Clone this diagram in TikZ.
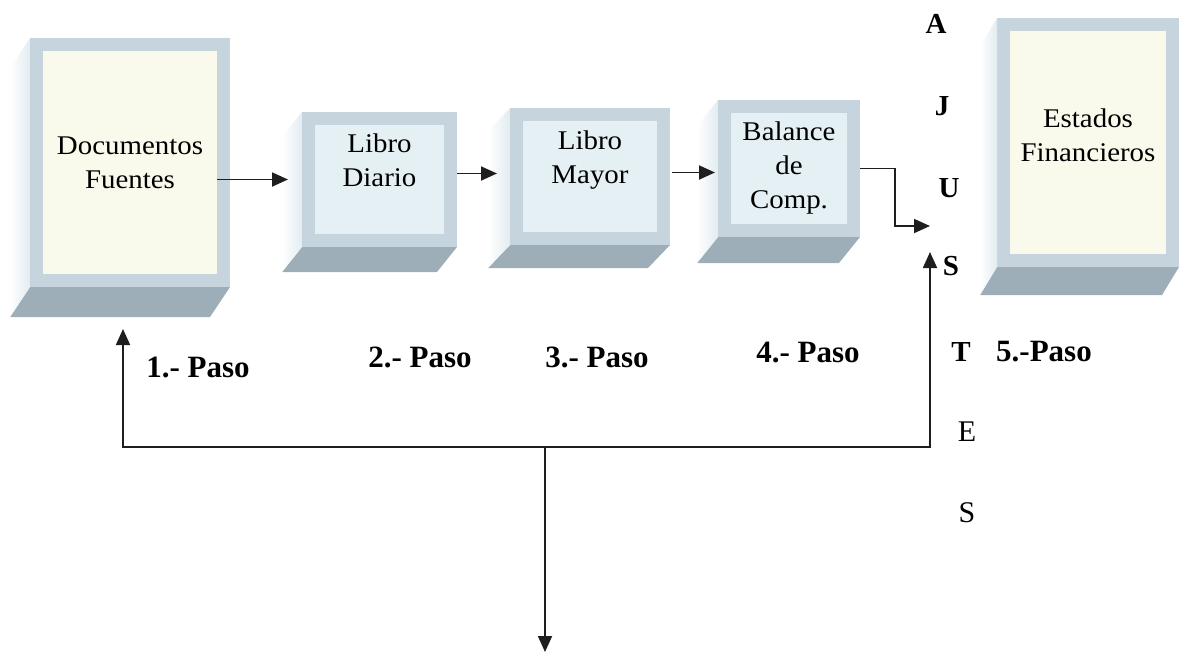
\documentclass[tikz,border=0pt]{standalone}
\usepackage{fontspec}
\setmainfont{Liberation Serif}
\newfontfamily\cajafont[FakeStretch=1.07]{Liberation Serif}
\usetikzlibrary{arrows.meta,calc}

\definecolor{marco}{RGB}{198,212,221}
\definecolor{crema}{RGB}{250,250,236}
\definecolor{celeste}{RGB}{228,240,244}
\definecolor{base}{RGB}{158,174,184}
\definecolor{lado}{RGB}{226,236,240}
\definecolor{trazo}{RGB}{30,30,30}

\begin{document}
\begin{tikzpicture}[x=1pt, y=-1pt,
    caja/.style={draw=marco, line width=13pt, outer sep=6.5pt, inner sep=0pt,
                 align=center, font=\cajafont\fontsize{27}{34}\selectfont},
    flecha/.style={trazo, line width=1.8pt, -{Triangle[length=16pt,width=14pt]}},
    paso/.style={font=\fontsize{31}{34}\selectfont\bfseries},
    letra/.style={font=\fontsize{29}{34}\selectfont\bfseries},
    letrafina/.style={font=\fontsize{30}{34}\selectfont}]
    \useasboundingbox (0,0) rectangle (1179,654);

    % Caras frontales (pasos)
    \node[caja, fill=crema, minimum width=187pt, minimum height=236pt] (docs) at (130,162.5) {Documentos\\Fuentes};
    \node[caja, fill=celeste, minimum width=142pt, minimum height=122pt] (diario) at (379.5,179.5) {Libro\\Diario\\[4pt]\mbox{}};
    \node[caja, fill=celeste, minimum width=147pt, minimum height=124pt] (mayor) at (590,176.5) {Libro\\Mayor\\[4pt]\mbox{}};
    \node[caja, fill=celeste, minimum width=129pt, minimum height=124pt] (balance) at (789,168.5) {Balance\\de\\Comp.};
    \node[caja, fill=crema, minimum width=169pt, minimum height=236pt] (estados) at (1088,142.5) {Estados\\Financieros\\[-20pt]\mbox{}};

    % Relieve: cara inferior y lateral
    \foreach \c/\dx/\dy in {docs/-20/30, diario/-20/25, mayor/-22/23, balance/-21/26, estados/-17/28} {
        \fill[base] (\c.south west) -- (\c.south east) -- ([shift={(\dx,\dy)}]\c.south east) -- ([shift={(\dx,\dy)}]\c.south west) -- cycle;
        \shade[left color=white, right color=lado] (\c.north west) -- ([shift={(\dx,\dy)}]\c.north west) -- ([shift={(\dx,\dy)}]\c.south west) -- (\c.south west) -- cycle;
    }

    % Flechas entre pasos
    \draw[flecha] ($(docs.east |- diario.west)+(-13,0)$) -- ($(diario.west)+(-14,0)$);
    \draw[flecha] ($(diario.east)+(0,-6)$) -- ($(diario.east -| mayor.west)+(-13,-6)$);
    \draw[flecha] ($(mayor.east)+(2,-4)$) -- ($(mayor.east -| balance.west)+(-3,-4)$);

    % Ajustes
    \coordinate (ajuste) at (930,240);
    \draw[flecha] (balance.east) -- ++(35,0) |- ($(ajuste)+(0,-14)$);

    % Retorno inferior
    \coordinate (retornoIzq) at (123,447);
    \coordinate (retornoDer) at (930,447);
    \coordinate (bajada) at (545,447);
    \coordinate (salida) at (545,652);
    \draw[flecha] (bajada) -- (retornoIzq) -- ($(retornoIzq |- docs.south)+(0,42)$);
    \draw[flecha] (bajada) -- (retornoDer) -- ($(ajuste)+(0,12)$);
    \draw[flecha] (bajada) -- (salida);

    % Letras verticales
    \foreach \l/\x/\y [count=\i] in {A/936/24, J/942/106, U/949/188, S/951/266, T/961/352}
        \node[letra] (aj\i) at (\x,\y) {\l};
    \node[letrafina] (aj6) at (967,432) {E};
    \node[letrafina] (aj7) at (967,513) {S};

    % Etiquetas de pasos
    \node[paso] (paso1) at (198,367) {1.- Paso};
    \node[paso] (paso2) at (420,357) {2.- Paso};
    \node[paso] (paso3) at (597,357) {3.- Paso};
    \node[paso] (paso4) at (808,353) {4.- Paso};
    \node[paso] (paso5) at (1044,352) {5.-Paso};

\end{tikzpicture}
\end{document}
